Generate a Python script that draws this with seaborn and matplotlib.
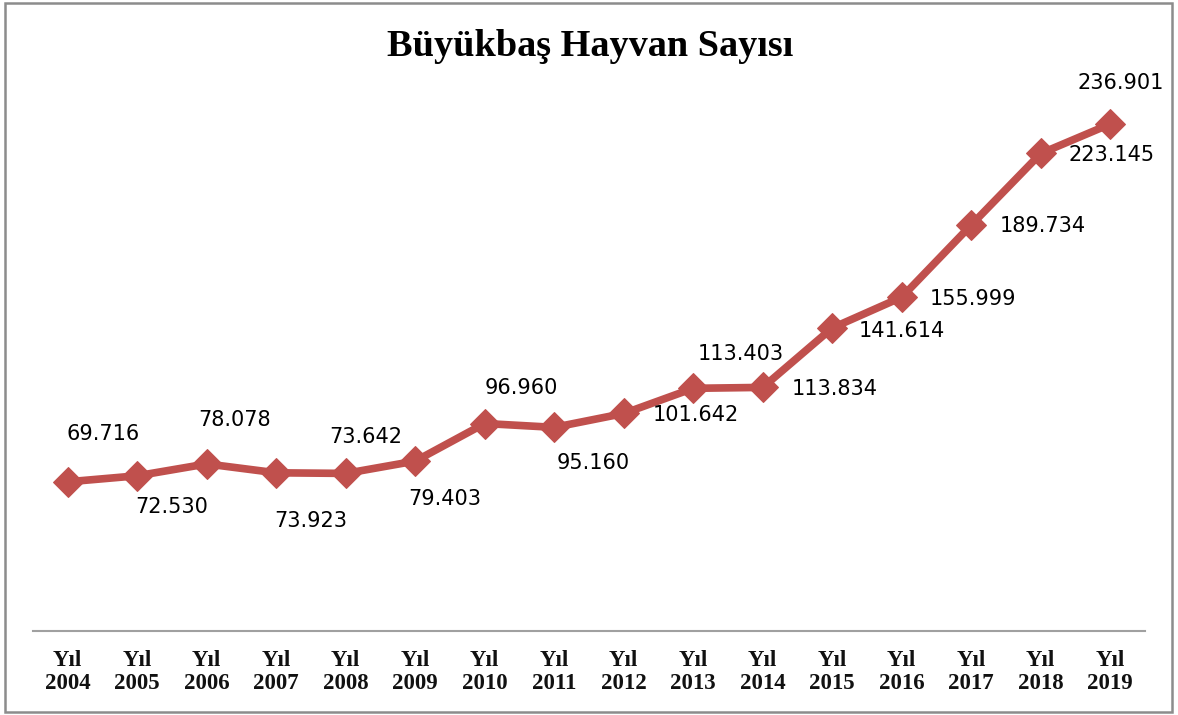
import matplotlib
matplotlib.use("Agg")
import matplotlib.pyplot as plt
import seaborn as sns
import pandas as pd
from matplotlib.patches import Rectangle

years = ["2004", "2005", "2006", "2007", "2008", "2009", "2010", "2011",
         "2012", "2013", "2014", "2015", "2016", "2017", "2018", "2019"]
values = [69.716, 72.530, 78.078, 73.923, 73.642, 79.403, 96.960, 95.160,
          101.642, 113.403, 113.834, 141.614, 155.999, 189.734, 223.145, 236.901]
value_labels = ["69.716", "72.530", "78.078", "73.923", "73.642", "79.403", "96.960", "95.160",
                "101.642", "113.403", "113.834", "141.614", "155.999", "189.734", "223.145", "236.901"]
tick_labels = ["Yıl\n" + y for y in years]
title = "Büyükbaş Hayvan Sayısı"

# label offsets in pixels (dx, dy down positive)
label_offsets = [(35, -48), (34, 31), (28, -44), (34, 48), (20, -36), (30, 38),
                 (37, -36), (39, 36), (72, 2), (47, -34), (72, 2), (70, 3),
                 (71, 2), (72, 1), (71, 2), (10, -41)]

sns.set_theme(style="white")
plt.rcParams['font.family'] = ['DejaVu Sans']

W, H = 1178, 715
fig = plt.figure(figsize=(W / 100, H / 100), dpi=100)
ax = fig.add_axes([33 / W, 1 - 631 / H, (1145 - 33) / W, (631 - 96) / H])

df = pd.DataFrame({"idx": list(range(len(years))), "value": values})
color = "#C0504D"
sns.lineplot(data=df, x="idx", y="value", ax=ax, color=color, linewidth=5.5,
             marker="D", markersize=15.5, markeredgecolor=color, markerfacecolor=color)

ax.set_xlim(-0.5, len(years) - 0.5)
ax.set_ylim(0, 250)
ax.set_xticks(range(len(years)))
ax.set_xticklabels(tick_labels, fontfamily="Liberation Serif", fontweight="bold",
                   fontsize=16.5, linespacing=1.1, color="#111111")
ax.tick_params(axis="x", length=0, pad=14)
ax.set_yticks([])
ax.set_xlabel("")
ax.set_ylabel("")
for s in ["left", "right", "top"]:
    ax.spines[s].set_visible(False)
ax.spines["bottom"].set_color("#A0A0A0")
ax.spines["bottom"].set_linewidth(1.5)
ax.patch.set_alpha(0)

for i, (v, lab) in enumerate(zip(values, value_labels)):
    dx, dy = label_offsets[i]
    ax.annotate(lab, (i, v), xytext=(dx * 0.72, -dy * 0.72), textcoords="offset points",
                ha="center", va="center", fontsize=15, color="#000000")

fig.text(590 / W, 1 - 46 / H, title, ha="center", va="center",
         fontfamily="Liberation Serif", fontweight="bold", fontsize=27.5, color="#000000")

fig.patches.append(Rectangle((5 / W, 3 / H), 1 - 11 / W, 1 - 6 / H, transform=fig.transFigure,
                             fill=False, edgecolor="#8C8C8C", linewidth=1.8))

fig.savefig("out.png", dpi=100)
